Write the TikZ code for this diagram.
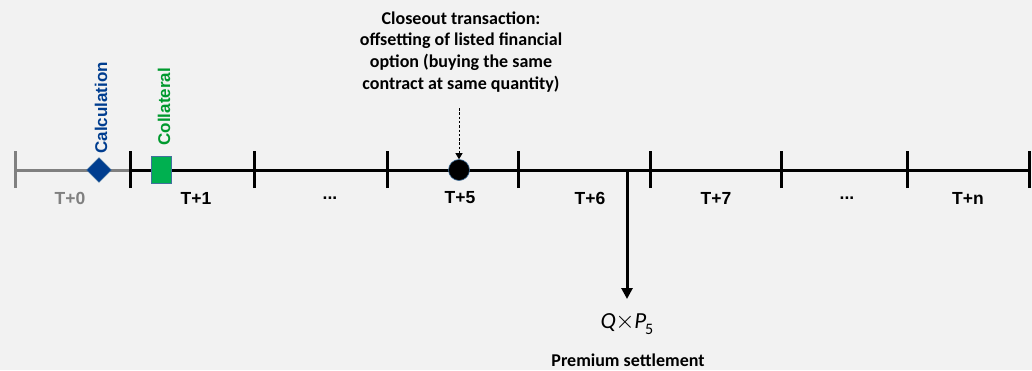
\documentclass[tikz,border=0pt]{standalone}
\usepackage{fontspec}
\setmainfont{Carlito}
\newfontfamily\arialf{Liberation Sans}
\usetikzlibrary{arrows.meta,shapes.geometric}
\definecolor{bg}{HTML}{F2F2F2}
\definecolor{calcblue}{HTML}{003D8F}
\definecolor{collgreen}{HTML}{00B050}
\definecolor{txtgreen}{HTML}{009A2E}
\definecolor{tgray}{HTML}{808080}
\definecolor{bord}{HTML}{41719C}
\begin{document}
\begin{tikzpicture}[x=1pt,y=-1pt,
  tick/.style={line width=3pt},
  tlabel/.style={font=\arialf\fontsize{17.5}{20}\selectfont\bfseries, anchor=center},
  vlabel/.style={font=\arialf\fontsize{17}{19}\selectfont\bfseries, rotate=90, anchor=west}]
\fill[bg] (0,0) rectangle (1032,370);
\useasboundingbox (0,0) rectangle (1032,370);
% coordinates
\coordinate (s) at (15,170);
\foreach \n/\x in {a/130,b/254,c/387,d/518,e/650,f/781,g/907,h/1029}{
  \coordinate (\n) at (\x,170);
}
\coordinate (pay) at (627,170);
% gray segment
\draw[tgray, line width=3pt] (s) -- (a);
\draw[tgray, tick] (15,151) -- (15,188);
% black line
\draw[black, line width=3pt] (a) -- (h);
\foreach \n in {a,b,c,d,e,f,g,h}{
  \draw[black, tick] ([yshift=-18pt]\n) -- ([yshift=19pt]\n);
}
% labels
\node[tlabel, text=tgray] (l0) at (70,198) {T+0};
\node[tlabel] (l1) at (196,198) {T+1};
\node[tlabel] (l2) at (330,198) {...};
\node[tlabel] (l5) at (460,198) {T+5};
\node[tlabel] (l6) at (590,198) {T+6};
\node[tlabel] (l7) at (716,198) {T+7};
\node[tlabel] (l8) at (847,198) {...};
\node[tlabel] (ln) at (968,198) {T+n};
% diamond
\node[diamond, fill=calcblue, draw=bord, line width=0.4pt, minimum width=25pt, minimum height=25pt, inner sep=0pt] (dia) at (99,170) {};
\node[vlabel, text=calcblue] (calc) at (101,157) {Calculation};
% collateral square
\node[rectangle, fill=collgreen, draw=bord, line width=0.6pt, minimum width=20pt, minimum height=27pt, inner sep=0pt] (coll) at (161,170) {};
\node[vlabel, text=txtgreen] (colltxt) at (164,149) {Collateral};
% circle
\node[circle, fill=black, draw=bord, line width=0.6pt, minimum size=21pt, inner sep=0pt] (circ) at (459,170) {};
\node[align=center, font=\fontsize{18}{21.7}\selectfont\bfseries, anchor=north] (close) at (461,8) {Closeout transaction:\\offsetting of listed financial\\option (buying the same\\contract at same quantity)};
\coordinate (dtop) at (459,108);
\draw[dash pattern=on 2.5pt off 1.8pt, line width=0.8pt, -{Triangle[length=6pt,width=7pt]}] (dtop) -- (circ.north);
% settlement arrow
\node (qp) at (627,324) {\fontsize{23}{26}\selectfont\itshape Q\kern-0.5pt{\upshape$\times$}\kern-0.5pt P\kern-1pt\raisebox{-0.55ex}{\upshape\fontsize{16}{18}\selectfont 5}};
\draw[line width=3pt, -{Triangle[length=11pt,width=11pt]}] (pay) -- (627,299);
\node[font=\fontsize{18}{21}\selectfont\bfseries] (prem) at (628,360) {Premium settlement};
\end{tikzpicture}
\end{document}
